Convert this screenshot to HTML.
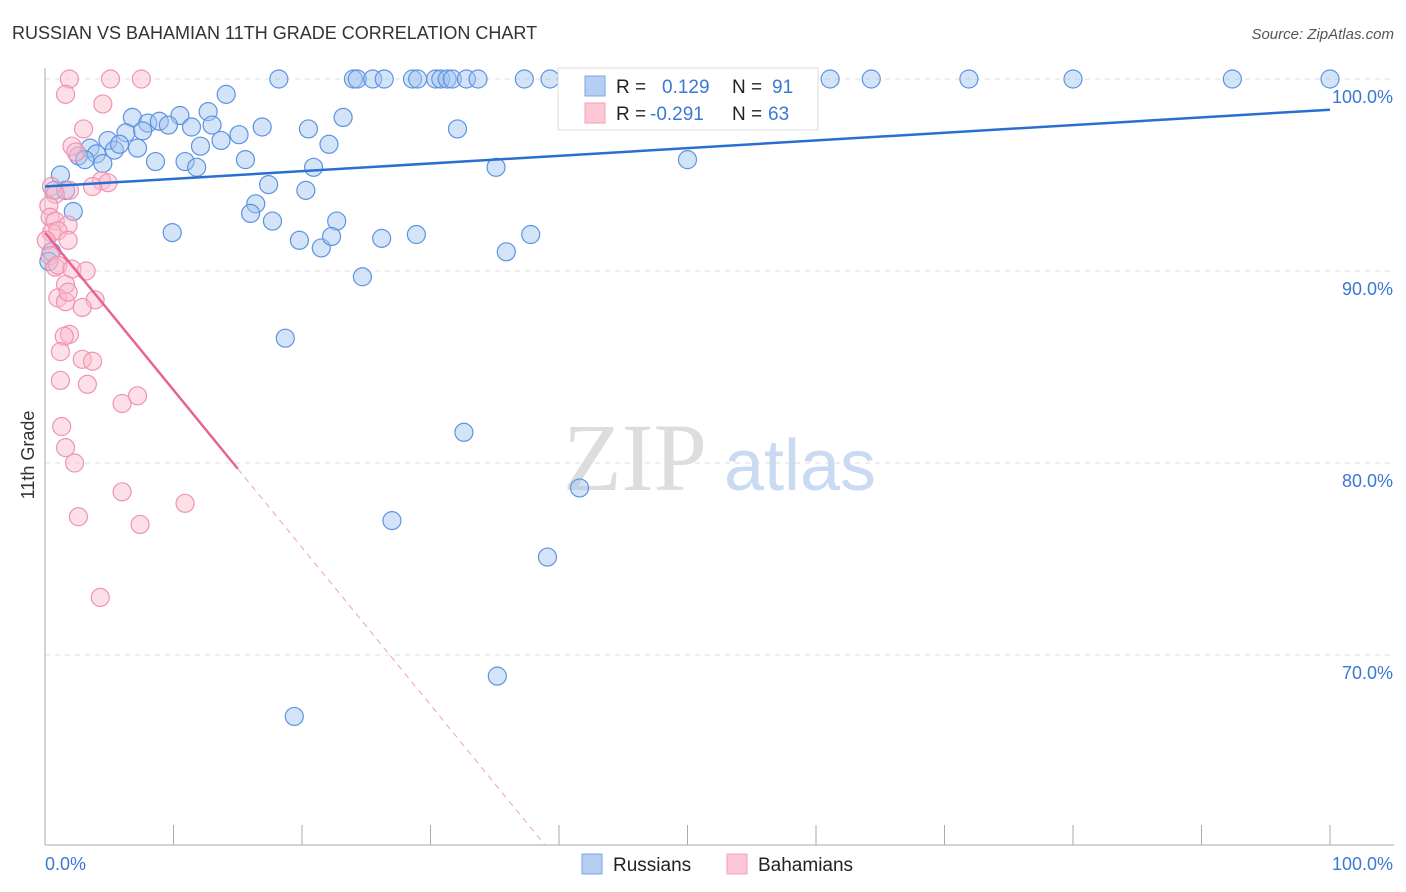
<!DOCTYPE html>
<html><head><meta charset="utf-8"><style>
body{margin:0;background:#fff;font-family:"Liberation Sans",sans-serif;}
svg{display:block}
</style></head><body>
<svg id="chart" width="1406" height="892" xmlns="http://www.w3.org/2000/svg">
<text x="12" y="39" font-size="18" fill="#333">RUSSIAN VS BAHAMIAN 11TH GRADE CORRELATION CHART</text>
<text x="1394" y="39" font-size="15" fill="#555" font-style="italic" text-anchor="end">Source: ZipAtlas.com</text>
<g id="grid"></g>
<g>
<text x="635" y="490" font-size="96" fill="#ddd" font-family="Liberation Serif,serif" text-anchor="middle">ZIP</text>
<text x="800" y="490" font-size="72" fill="#c9daf2" text-anchor="middle">atlas</text>
</g>
<g id="axes"></g>
<g id="pts"></g>
<g id="trend"></g>
<text transform="translate(34,455) rotate(-90)" font-size="18" fill="#333" text-anchor="middle">11th Grade</text>
<g>
<rect x="558" y="68" width="260" height="62" fill="#fff" stroke="#ddd"/>
<rect x="585" y="76" width="20" height="20" fill="#b5cff3" stroke="#7aa6e8"/>
<rect x="585" y="103" width="20" height="20" fill="#fcc8d6" stroke="#f2a0b8"/>
<text x="616" y="93" font-size="19" fill="#222">R = </text><text x="662" y="93" font-size="19" fill="#3a78d6">0.129</text>
<text x="732" y="93" font-size="19" fill="#222">N = </text><text x="772" y="93" font-size="19" fill="#3a78d6">91</text>
<text x="616" y="120" font-size="19" fill="#222">R = </text><text x="650" y="120" font-size="19" fill="#3a78d6">-0.291</text>
<text x="732" y="120" font-size="19" fill="#222">N = </text><text x="768" y="120" font-size="19" fill="#3a78d6">63</text>
</g>
<g>
<rect x="582" y="854" width="20" height="20" fill="#b5cff3" stroke="#7aa6e8"/>
<text x="613" y="871" font-size="19" fill="#222">Russians</text>
<rect x="727" y="854" width="20" height="20" fill="#fcc8d6" stroke="#f2a0b8"/>
<text x="758" y="871" font-size="19" fill="#222">Bahamians</text>
</g>
</svg>
<script>
const blueX=[18.2,24.0,24.3,25.5,26.4,28.6,29.0,30.4,30.8,31.3,31.7,32.8,33.7,37.3,39.3,40.6,47.1,52.5,54.5,59.4,61.1,64.3,71.9,80.0,92.4,100,
14.1,6.8,12.7,10.5,8.0,8.9,9.6,16.9,20.5,23.2,32.1,6.3,4.9,7.6,11.4,13.0,15.1,13.7,3.5,4.0,5.4,5.8,7.2,2.6,3.1,4.5,12.1,22.1,8.6,10.9,11.8,15.6,20.9,35.1,50.0,1.2,0.7,1.6,17.4,20.3,16.4,16.0,17.7,22.7,2.2,9.9,19.8,21.5,22.3,26.2,28.9,35.9,37.8,24.7,18.7,32.6,41.6,27.0,39.1,35.2,19.4,0.5,0.3];
const blueY=[100,100,100,100,100,100,100,100,100,100,100,100,100,100,100,100,100,100,100,100,100,100,100,100,100,100,
99.2,98.0,98.3,98.1,97.7,97.8,97.6,97.5,97.4,98.0,97.4,97.2,96.8,97.3,97.5,97.6,97.1,96.8,96.4,96.1,96.3,96.6,96.4,96.0,95.8,95.6,96.5,96.6,95.7,95.7,95.4,95.8,95.4,95.4,95.8,95.0,94.2,94.2,94.5,94.2,93.5,93.0,92.6,92.6,93.1,92.0,91.6,91.2,91.8,91.7,91.9,91.0,91.9,89.7,86.5,81.6,78.7,77.0,75.1,68.9,66.8,91.0,90.5];
const pinkX=[1.9,5.1,7.5,1.6,4.5,3.0,2.1,2.4,4.4,4.9,3.7,1.9,0.5,0.8,0.3,0.4,0.8,1.8,0.5,1.0,0.1,1.8,0.4,0.8,1.0,2.1,3.2,1.6,1.0,1.6,3.9,1.8,2.9,1.9,1.5,1.2,2.9,3.7,1.2,3.3,6.0,7.2,1.3,1.6,2.3,6.0,10.9,2.6,7.4,4.3];
const pinkY=[100,100,100,99.2,98.7,97.4,96.5,96.2,94.7,94.6,94.4,94.2,94.4,94.0,93.4,92.8,92.6,92.4,92.0,92.1,91.6,91.6,90.8,90.2,90.3,90.1,90.0,89.3,88.6,88.4,88.5,88.9,88.1,86.7,86.6,85.8,85.4,85.3,84.3,84.1,83.1,83.5,81.9,80.8,80.0,78.5,77.9,77.2,76.8,73.0];
const yTicks=[100,90,80,70];
const blueTrend=[94.4,98.4];
const pinkTrend=[92.0,-0.82];
const NS="http://www.w3.org/2000/svg";
const X0=45,X1=1330,YT=79,PX=19.2;
const sx=v=>X0+(X1-X0)*v/100, sy=v=>YT+(100-v)*PX;
function mk(t,a,p){const e=document.createElementNS(NS,t);for(const k in a)e.setAttribute(k,a[k]);document.getElementById(p).appendChild(e);return e;}
yTicks.forEach(t=>{
 const l=mk('line',{x1:45,x2:1394,y1:sy(t),y2:sy(t),stroke:'#ddd','stroke-dasharray':'5,5'},'grid');
 
 
 const tx=mk('text',{x:1393,y:sy(t)+24,'font-size':18,fill:'#3a78d6','text-anchor':'end'},'axes');
 tx.textContent=t.toFixed(1)+'%';
 
 
});
mk('line',{x1:45,x2:45,y1:68,y2:845,stroke:'#aaa'},'axes');
mk('line',{x1:45,x2:1394,y1:845,y2:845,stroke:'#aaa'},'axes');
for(let i=0;i<=10;i++){const l=mk('line',{x1:sx(i*10),x2:sx(i*10),y1:825,y2:845,stroke:'#aaa'},'axes');
 
 }
let a=mk('text',{x:45,y:870,'font-size':18,fill:'#3a78d6'},'axes');a.textContent='0.0%';


a=mk('text',{x:1393,y:870,'font-size':18,fill:'#3a78d6','text-anchor':'end'},'axes');a.textContent='100.0%';


blueX.forEach((v,i)=>{const c=mk('circle',{cx:sx(v),cy:sy(blueY[i]),r:9,fill:'rgba(160,195,240,0.45)',stroke:'#5d93e0','stroke-width':1.2},'pts');
 
 });
pinkX.forEach((v,i)=>{const c=mk('circle',{cx:sx(v),cy:sy(pinkY[i]),r:9,fill:'rgba(250,185,205,0.45)',stroke:'#ef94b0','stroke-width':1.2},'pts');
 
 });
let t=mk('line',{x1:sx(0),y1:sy(blueTrend[0]),x2:sx(100),y2:sy(blueTrend[1]),stroke:'#2a6fd0','stroke-width':2.5},'trend');


const pe=v=>pinkTrend[0]+pinkTrend[1]*v;
t=mk('line',{x1:sx(0),y1:sy(pe(0)),x2:sx(15),y2:sy(pe(15)),stroke:'#e8638f','stroke-width':2.5},'trend');


const xe=(pinkTrend[0]-60.1)/-pinkTrend[1];
t=mk('line',{x1:sx(15),y1:sy(pe(15)),x2:sx(xe),y2:sy(pe(xe)),stroke:'#f0a0b8','stroke-width':1,'stroke-dasharray':'6,5'},'trend');


</script>
</body></html>
